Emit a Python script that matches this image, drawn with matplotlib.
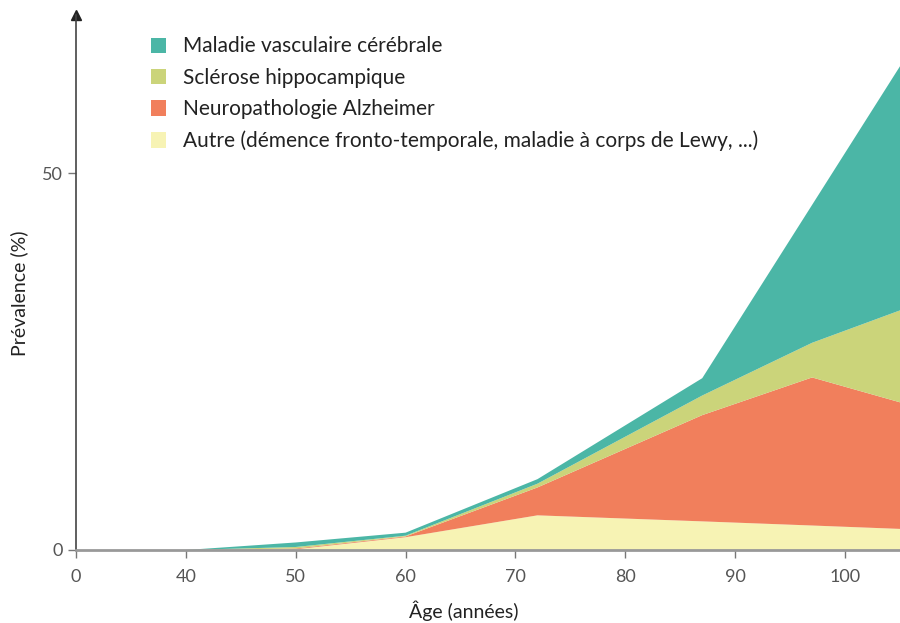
import matplotlib.pyplot as plt

# age (years) and stacked prevalence layers (%)
ages = [40, 50, 60, 72, 87, 97, 105]
autre = [0, 0.1, 1.7, 4.6, 3.8, 3.25, 2.8]
alzheimer = [0, 0.1, 0.1, 3.7, 14.1, 19.65, 16.8]
sclerose = [0, 0.2, 0.1, 0.5, 2.6, 4.6, 12.2]
vasculaire = [0, 0.6, 0.4, 0.6, 2.3, 18.3, 32.4]

labels = ["Autre (démence fronto-temporale, maladie à corps de Lewy, ...)",
          "Neuropathologie Alzheimer",
          "Sclérose hippocampique",
          "Maladie vasculaire cérébrale"]
colors = ["#F7F3B4", "#F17F5C", "#CBD47A", "#4BB6A6"]

xticks = [30, 40, 50, 60, 70, 80, 90, 100]
xticklabels = ["0", "40", "50", "60", "70", "80", "90", "100"]
yticks = [0, 50]

plt.rcParams['font.family'] = ['Lato', 'DejaVu Sans']

fig = plt.figure(figsize=(9, 6.23), dpi=100)
ax = fig.add_axes([76 / 900, 73 / 623, 824 / 900, 535 / 623])

polys = ax.stackplot(ages, autre, alzheimer, sclerose, vasculaire,
                     colors=colors, labels=labels, linewidth=0)

ax.set_xlim(30, 105)
ax.set_ylim(0, 71)
ax.set_xticks(xticks)
ax.set_xticklabels(xticklabels)
ax.set_yticks(yticks)

for side in ['top', 'right']:
    ax.spines[side].set_visible(False)
ax.spines['left'].set_color('#444444')
ax.spines['left'].set_linewidth(1.2)
ax.spines['bottom'].set_color('#999999')
ax.spines['bottom'].set_linewidth(2)
ax.tick_params(axis='both', colors='#777777', labelcolor='#555555',
               labelsize=13, length=6, width=1)
ax.tick_params(axis='x', pad=8)

# arrow head on the y axis
ax.plot([0], [1.0], marker='^', color='#222222', markersize=7,
        transform=ax.transAxes, clip_on=False)

ax.set_ylabel("Prévalence (%)", fontsize=14, color='#222222')
ax.yaxis.set_label_coords(-0.058, 0.48)
ax.set_xlabel("Âge (années)", fontsize=14, color='#222222')
ax.xaxis.set_label_coords(0.47, -0.095)

handles = polys[::-1]
ax.legend(handles, labels[::-1], loc='upper left',
          bbox_to_anchor=(0.068, 0.995), frameon=False, fontsize=15,
          handlelength=0.75, handleheight=0.75, handletextpad=0.8,
          labelspacing=0.55, labelcolor='#222222')

fig.savefig('out.png', dpi=100)
